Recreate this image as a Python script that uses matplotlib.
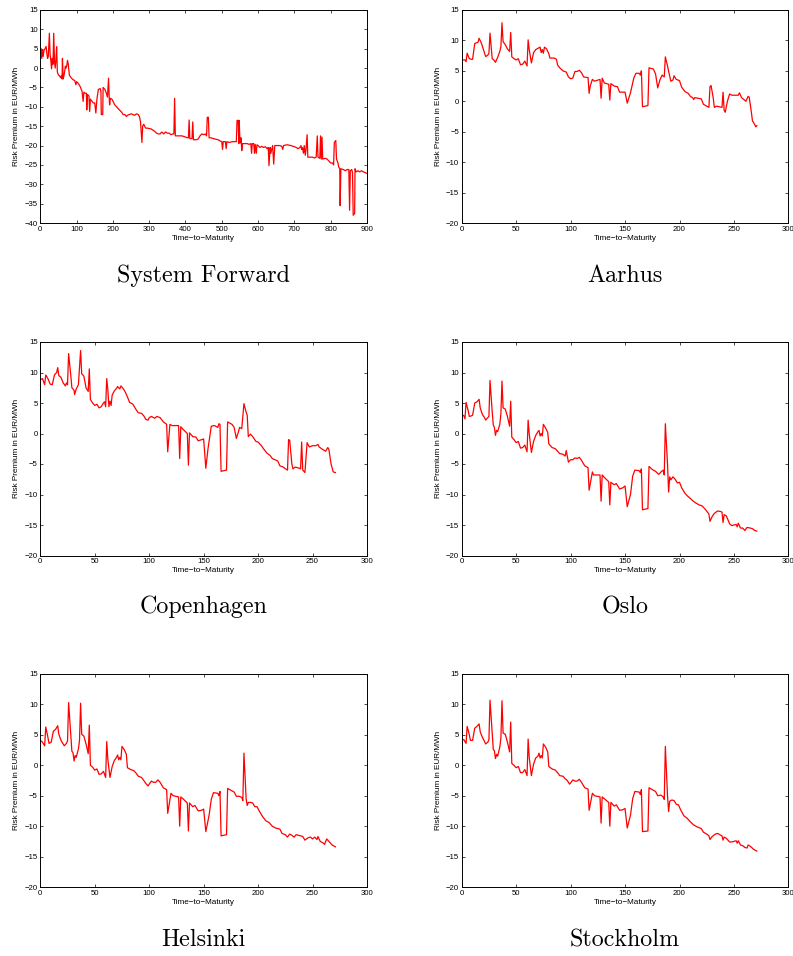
import matplotlib
matplotlib.use("Agg")
import matplotlib.pyplot as plt

# ---------------- data ----------------
sf_x = [0, 2, 4, 6, 8, 10, 13, 16, 18, 20, 22, 25, 27, 29, 31, 33, 35, 37, 39, 41, 43, 45, 47, 50, 53, 56, 58, 60, 61, 63, 65, 67, 69, 71, 73, 75, 77, 80, 85, 90, 95, 98, 100, 105, 110, 115, 118, 120, 123, 127, 128, 130, 134, 136, 138, 142, 146, 150, 153, 156, 160, 165, 167, 168, 172, 173, 178, 182, 185, 188, 190, 191, 193, 197, 200, 205, 210, 215, 220, 225, 228, 233, 237, 240, 245, 250, 255, 260, 265, 270, 273, 276, 278, 280, 282, 285, 290, 295, 300, 305, 310, 315, 320, 325, 330, 335, 340, 345, 350, 355, 360, 365, 368, 370, 372, 380, 390, 400, 405, 408, 410, 412, 418, 420, 422, 430, 435, 440, 445, 450, 455, 458, 460, 463, 465, 470, 480, 490, 495, 500, 502, 504, 508, 510, 512, 514, 520, 530, 535, 540, 542, 545, 547, 548, 550, 552, 553, 555, 557, 560, 570, 575, 580, 582, 584, 588, 590, 592, 595, 597, 600, 605, 610, 615, 620, 625, 628, 630, 633, 635, 640, 643, 646, 650, 660, 665, 668, 670, 680, 690, 700, 705, 710, 715, 718, 720, 722, 725, 727, 730, 732, 735, 737, 740, 750, 755, 760, 763, 765, 770, 772, 774, 776, 778, 785, 790, 795, 800, 805, 808, 810, 814, 816, 820, 822, 825, 826, 828, 835, 840, 845, 850, 852, 854, 858, 860, 862, 866, 867, 870, 875, 880, 885, 890, 895, 900]
sf_y = [3.0, 5.1, 2.5, 4.8, 3.0, 4.5, 5.0, 5.6, 3.8, 2.5, 3.0, 9.0, 3.5, 2.0, -0.2, 2.5, 1.0, 9.0, 2.0, 0.0, 2.0, 5.5, -1.0, -1.8, -2.0, -2.5, -2.0, -2.8, 2.5, -2.8, -2.0, -1.0, 0.5, 0.0, 0.7, 2.0, 1.0, -1.8, -2.5, -3.0, -3.2, -4.3, -3.5, -4.0, -4.8, -6.0, -8.6, -6.2, -6.5, -6.5, -10.8, -6.8, -7.2, -11.2, -8.0, -8.5, -9.0, -9.0, -11.6, -8.0, -5.5, -5.3, -6.0, -12.0, -12.0, -5.0, -5.5, -6.5, -7.5, -2.6, -8.0, -9.5, -7.8, -8.0, -8.5, -9.5, -10.0, -10.5, -11.0, -11.5, -12.0, -12.0, -12.5, -12.2, -12.0, -11.8, -12.0, -12.2, -11.8, -12.0, -12.5, -13.8, -16.5, -19.2, -15.0, -14.5, -15.5, -15.5, -15.6, -15.7, -16.0, -16.3, -16.8, -17.0, -17.0, -16.5, -17.0, -16.5, -16.8, -16.8, -17.2, -17.0, -17.0, -7.8, -17.5, -17.5, -17.5, -17.8, -18.0, -18.0, -13.4, -18.2, -18.2, -13.9, -18.5, -18.5, -18.3, -17.5, -17.0, -17.2, -17.0, -17.5, -12.7, -12.7, -18.0, -18.0, -18.3, -18.5, -18.8, -19.0, -21.0, -19.0, -19.0, -19.0, -20.8, -19.0, -19.2, -19.0, -19.0, -19.0, -13.5, -13.5, -19.5, -13.5, -19.0, -19.3, -18.0, -21.3, -19.5, -19.5, -19.5, -19.7, -19.5, -22.0, -19.5, -19.5, -22.0, -19.7, -22.0, -19.8, -20.0, -20.5, -20.2, -20.5, -20.3, -20.8, -20.5, -25.2, -20.5, -22.0, -20.0, -24.8, -20.0, -20.0, -20.0, -20.2, -21.0, -20.0, -19.8, -20.0, -20.3, -20.5, -20.8, -20.5, -20.0, -21.0, -20.5, -22.0, -20.0, -22.5, -21.0, -17.2, -23.0, -23.0, -23.0, -23.2, -23.0, -17.5, -23.0, -23.3, -17.5, -23.5, -17.8, -23.5, -23.3, -23.5, -24.0, -24.5, -24.5, -25.0, -19.2, -18.7, -23.5, -24.5, -25.5, -26.0, -35.5, -26.0, -26.2, -26.5, -26.2, -26.2, -36.7, -26.5, -26.2, -27.0, -38.0, -37.5, -26.0, -26.8, -26.5, -26.8, -26.5, -26.8, -27.0, -27.2]

aar_x = [0, 3, 4, 5, 7, 9, 10, 12, 15, 16, 18, 22, 24, 25, 26, 28, 30, 31, 33, 35, 36, 37, 38, 40, 42, 44, 45, 46, 48, 50, 52, 54, 56, 58, 60, 61, 62, 64, 66, 68, 70, 72, 73, 74, 75, 76, 78, 80, 81, 85, 87, 88, 90, 93, 96, 98, 100, 102, 104, 106, 108, 110, 112, 116, 117, 118, 120, 122, 127, 128, 129, 131, 135, 136, 137, 140, 143, 145, 150, 152, 155, 158, 160, 163, 164, 165, 166, 171, 172, 176, 178, 180, 182, 184, 186, 187, 189, 192, 194, 195, 197, 200, 202, 205, 208, 210, 212, 213, 214, 220, 222, 225, 227, 228, 229, 231, 232, 234, 239, 240, 241, 242, 244, 246, 248, 254, 255, 257, 261, 263, 264, 266, 267, 269, 270, 271]
aar_y = [6.8, 6.8, 6.5, 7.9, 7.0, 6.9, 6.9, 9.5, 9.7, 10.35, 9.6, 7.35, 7.6, 7.9, 11.2, 7.0, 6.7, 6.4, 7.2, 8.2, 9.0, 12.9, 9.8, 9.3, 8.6, 8.2, 11.3, 7.3, 7.0, 6.8, 7.0, 6.0, 6.1, 6.6, 5.8, 10.1, 8.5, 6.3, 8.0, 8.5, 8.7, 8.9, 8.0, 8.5, 7.9, 8.9, 8.6, 7.8, 7.1, 7.1, 6.9, 6.0, 5.5, 5.0, 4.8, 4.0, 3.7, 3.8, 4.9, 4.9, 5.1, 4.7, 4.0, 3.9, 1.3, 2.5, 3.6, 3.3, 3.6, 0.5, 3.8, 3.0, 2.8, 0.2, 2.9, 2.5, 2.4, 1.5, 1.5, -0.3, 1.4, 3.8, 4.6, 4.6, 4.3, 5.0, -0.9, -0.7, 5.5, 5.3, 4.5, 2.2, 3.5, 4.3, 4.0, 7.3, 5.8, 3.3, 3.5, 4.2, 3.6, 3.4, 2.3, 1.6, 1.3, 0.8, 0.6, 0.3, 0.6, 0.4, -0.5, -0.8, -1.0, 2.4, 2.6, 0.5, -1.0, -0.8, -1.0, 1.5, -1.5, -1.8, 0.0, 1.2, 1.0, 1.0, 1.4, 0.6, 0.0, 0.8, 0.7, -1.8, -3.2, -3.8, -4.2, -4.0]

cph_x = [0, 2, 4, 5, 7, 9, 11, 13, 15, 16, 17, 19, 21, 23, 24, 25, 26, 28, 29, 31, 31.5, 33, 35, 37, 38, 40, 42, 44, 45, 46, 48, 50, 52, 54, 56, 58, 59, 60, 61, 62, 63, 64, 65, 66, 68, 70, 71, 73, 74, 76, 78, 80, 82, 85, 88, 90, 93, 95, 97, 99, 100, 102, 105, 107, 110, 113, 116, 117, 119, 121, 127, 128, 129, 131, 135, 136, 137, 140, 143, 145, 150, 152, 154, 157, 160, 163, 164, 165, 166, 171, 172, 176, 178, 180, 182, 183, 185, 187, 189, 190, 191, 193, 195, 198, 200, 203, 205, 208, 211, 213, 218, 220, 223, 226, 227, 228, 229, 231, 232, 234, 238, 239, 240, 241, 243, 245, 247, 250, 253, 255, 256, 260, 262, 264, 265, 267, 269, 271]
cph_y = [8.8, 9.0, 8.0, 9.6, 9.0, 8.1, 8.0, 9.6, 10.0, 10.8, 9.5, 9.2, 8.3, 7.8, 8.3, 8.0, 13.1, 9.5, 7.5, 7.1, 6.4, 7.3, 8.0, 13.6, 9.8, 9.4, 7.5, 6.9, 10.6, 5.6, 5.0, 4.6, 4.8, 4.2, 4.4, 5.0, 5.2, 4.4, 9.0, 7.2, 4.4, 5.3, 4.6, 6.3, 7.0, 7.4, 7.7, 7.3, 7.8, 7.4, 6.8, 6.0, 5.1, 4.8, 3.9, 3.4, 3.3, 2.9, 2.3, 2.2, 2.6, 2.8, 2.5, 2.8, 2.6, 1.9, 1.5, -3.0, 1.5, 1.3, 1.3, -4.1, 1.1, 0.7, 0.0, -5.2, 0.1, -0.5, -0.6, -1.2, -0.9, -5.7, -2.5, 1.2, 1.3, 1.0, 1.6, 1.5, -6.2, -6.0, 1.9, 1.5, 1.0, -0.8, 0.3, 1.0, 0.8, 4.9, 3.5, 3.0, -0.5, -0.1, -0.5, -1.3, -1.4, -2.0, -2.5, -3.2, -3.6, -4.1, -4.5, -5.3, -5.5, -5.9, -6.0, -1.0, -1.1, -5.0, -5.8, -5.5, -5.7, -5.8, -1.4, -6.0, -6.4, -1.5, -2.2, -2.0, -2.0, -1.8, -2.2, -2.7, -2.9, -2.3, -2.6, -5.0, -6.3, -6.4]

osl_x = [0, 2, 3, 4, 6, 7, 9, 10, 12, 14, 16, 17, 19, 21, 22, 24, 25, 26, 28, 29, 30, 31, 32, 33, 35, 36, 37, 38, 40, 42, 44, 45, 46, 48, 50, 52, 54, 56, 58, 60, 61, 62, 64, 66, 68, 70, 71, 72, 73, 74, 75, 77, 79, 80, 83, 86, 88, 90, 93, 95, 96, 98, 100, 102, 104, 106, 108, 110, 113, 116, 117, 120, 121, 127, 128, 129, 131, 135, 136, 137, 140, 142, 145, 148, 150, 152, 155, 157, 159, 163, 164, 165, 166, 171, 172, 175, 178, 181, 183, 185, 186, 187, 189, 190, 191, 192, 194, 196, 198, 200, 202, 205, 207, 209, 212, 215, 218, 221, 224, 227, 228, 230, 232, 235, 238, 239, 240, 241, 243, 246, 248, 250, 252, 253, 254, 256, 258, 260, 262, 265, 267, 269, 271]
osl_y = [3.1, 2.9, 2.4, 5.1, 3.7, 2.8, 2.9, 3.0, 5.0, 5.2, 5.6, 4.2, 3.1, 2.6, 2.2, 2.6, 2.8, 8.7, 3.6, 1.4, 1.0, -0.3, 0.5, 0.3, 1.5, 3.3, 8.6, 4.2, 4.0, 2.8, 1.2, 5.3, -0.6, -1.0, -1.5, -1.3, -2.4, -2.3, -1.9, -3.0, 2.2, 0.0, -3.1, -1.3, -0.3, 0.3, 0.5, -0.4, 0.0, -0.4, 1.5, 0.9, 0.2, -1.7, -2.3, -2.5, -2.9, -3.3, -3.4, -3.7, -2.8, -4.7, -4.3, -4.3, -4.0, -4.1, -3.9, -4.4, -5.3, -5.6, -9.3, -6.3, -6.8, -6.8, -11.1, -6.8, -7.2, -7.9, -11.7, -8.0, -8.4, -8.2, -9.1, -8.9, -8.6, -12.0, -10.0, -7.0, -6.0, -6.1, -6.4, -5.8, -12.5, -12.3, -5.4, -5.9, -6.2, -6.7, -6.3, -6.0, -6.8, 1.6, -5.0, -9.6, -7.1, -7.6, -7.1, -7.5, -8.1, -8.0, -8.9, -9.8, -10.2, -10.5, -11.0, -11.4, -11.7, -11.9, -12.5, -13.2, -14.4, -13.6, -13.1, -12.7, -12.8, -12.9, -14.6, -13.3, -13.5, -14.8, -15.1, -15.0, -14.9, -15.3, -14.7, -15.5, -15.5, -15.9, -15.4, -15.5, -15.6, -15.9, -16.0]

hel_x = [0, 2, 4, 5, 7, 8, 10, 12, 14, 16, 17, 19, 21, 22, 24, 25, 26, 28, 29, 30, 31, 32, 33, 35, 36, 37, 38, 40, 42, 44, 45, 46, 48, 50, 52, 54, 56, 58, 60, 61, 62, 64, 66, 68, 70, 71, 72, 73, 74, 75, 77, 79, 80, 83, 86, 88, 90, 93, 95, 97, 99, 100, 102, 104, 106, 108, 110, 113, 116, 117, 120, 122, 127, 128, 129, 131, 135, 136, 137, 140, 142, 145, 148, 150, 152, 155, 157, 159, 163, 164, 165, 166, 171, 172, 175, 178, 180, 183, 185, 186, 187, 189, 190, 191, 193, 195, 197, 199, 201, 204, 207, 210, 213, 216, 220, 222, 225, 227, 229, 231, 233, 235, 237, 241, 243, 246, 248, 250, 252, 254, 255, 257, 260, 261, 263, 265, 268, 271]
hel_y = [4.1, 3.8, 3.2, 6.3, 4.6, 3.6, 3.8, 5.6, 5.9, 6.5, 5.1, 4.1, 3.5, 3.2, 3.6, 4.0, 10.3, 5.0, 2.3, 2.1, 0.7, 1.6, 1.3, 2.7, 4.1, 10.2, 5.1, 4.8, 3.5, 1.9, 6.6, 0.0, -0.3, -0.8, -0.6, -1.5, -1.4, -1.0, -2.0, 3.9, 1.0, -2.0, -0.2, 0.8, 1.3, 1.7, 0.9, 1.3, 0.9, 3.1, 2.6, 1.8, -0.4, -0.7, -0.9, -1.3, -1.8, -2.0, -2.5, -3.0, -3.4, -3.1, -2.6, -2.8, -2.8, -2.4, -2.8, -3.7, -4.0, -7.9, -4.6, -5.0, -5.2, -10.0, -5.2, -5.5, -6.2, -10.8, -6.2, -6.8, -6.6, -7.5, -7.4, -7.2, -10.9, -8.2, -5.6, -4.5, -4.6, -5.0, -4.3, -11.6, -11.4, -3.8, -4.1, -4.4, -5.1, -5.1, -5.3, -5.8, 2.0, -5.5, -6.6, -6.1, -6.1, -6.2, -6.8, -6.8, -7.5, -8.4, -9.1, -9.4, -10.0, -10.3, -10.5, -11.2, -11.4, -11.8, -11.3, -11.5, -11.8, -11.4, -11.5, -11.7, -12.3, -11.9, -11.8, -12.1, -11.8, -12.2, -11.7, -12.5, -12.8, -13.0, -12.1, -12.5, -13.1, -13.4]

sto_x = [0, 2, 4, 5, 7, 8, 10, 12, 14, 16, 17, 19, 21, 22, 24, 25, 26, 28, 29, 30, 31, 32, 33, 35, 36, 37, 38, 40, 42, 44, 45, 46, 48, 50, 52, 54, 56, 58, 60, 61, 62, 64, 66, 68, 70, 71, 72, 73, 74, 75, 77, 79, 80, 83, 86, 88, 90, 93, 95, 97, 99, 100, 102, 104, 106, 108, 110, 113, 116, 117, 120, 122, 127, 128, 129, 131, 135, 136, 137, 140, 142, 145, 148, 150, 152, 155, 157, 159, 163, 164, 165, 166, 171, 172, 175, 178, 180, 183, 185, 186, 187, 189, 190, 191, 193, 195, 197, 199, 201, 204, 207, 210, 213, 216, 220, 222, 225, 227, 228, 230, 233, 235, 238, 239, 240, 241, 243, 246, 248, 250, 252, 253, 254, 256, 258, 260, 262, 263, 265, 268, 271]
sto_y = [4.3, 4.2, 3.6, 6.4, 5.0, 4.1, 4.1, 6.1, 6.4, 6.8, 5.5, 4.6, 3.9, 3.5, 3.8, 4.2, 10.7, 5.2, 2.6, 2.4, 1.1, 1.8, 1.5, 3.0, 4.5, 10.6, 5.3, 5.1, 3.8, 2.2, 7.1, 0.3, 0.0, -0.4, -0.2, -1.2, -1.2, -0.7, -1.7, 4.3, 1.3, -1.7, 0.2, 1.2, 1.5, 2.0, 1.2, 1.6, 1.2, 3.5, 3.0, 2.2, -0.2, -0.6, -0.8, -1.2, -1.7, -1.8, -2.2, -2.5, -3.1, -2.9, -2.4, -2.6, -2.6, -2.3, -2.8, -3.7, -3.9, -7.4, -4.6, -5.0, -5.2, -9.5, -5.2, -5.5, -6.1, -10.0, -6.1, -6.7, -6.5, -7.4, -7.3, -7.1, -10.3, -8.2, -5.5, -4.3, -4.4, -4.8, -4.0, -10.9, -10.8, -3.7, -4.0, -4.3, -5.0, -4.9, -5.2, -5.6, 3.1, -5.0, -7.6, -5.9, -5.7, -5.8, -6.4, -6.5, -7.3, -8.3, -8.7, -9.3, -9.8, -10.1, -10.4, -11.0, -11.3, -11.6, -12.2, -11.7, -11.3, -11.2, -11.5, -11.6, -12.3, -11.8, -12.0, -12.6, -12.6, -12.5, -12.4, -12.8, -12.4, -13.1, -13.2, -13.5, -13.6, -13.1, -13.3, -13.8, -14.1]

titles = ["System Forward", "Aarhus", "Copenhagen", "Oslo", "Helsinki", "Stockholm"]
series = [(sf_x, sf_y), (aar_x, aar_y), (cph_x, cph_y), (osl_x, osl_y), (hel_x, hel_y), (sto_x, sto_y)]
xlims = [(0, 900), (0, 300), (0, 300), (0, 300), (0, 300), (0, 300)]
ylims = [(-40, 15), (-20, 15), (-20, 15), (-20, 15), (-20, 15), (-20, 15)]
xticks_list = [list(range(0, 901, 100))] + [list(range(0, 301, 50))] * 5
yticks_list = [list(range(-40, 16, 5))] + [list(range(-20, 16, 5))] * 5
xlabel = "Time\u2212to\u2212Maturity"
ylabel = "Risk Premium in EUR/MWh"

# ---------------- layout ----------------
W, H = 793, 956
fig = plt.figure(figsize=(W / 100, H / 100), dpi=100)
lefts = [40.3, 461.7]
tops = [10, 342, 674]
bottoms = [223, 555.5, 887]
title_y = [276, 607, 940]
aw = 326.7

sans = ["Liberation Sans", "DejaVu Sans"]
for i, (title, (xs, ys)) in enumerate(zip(titles, series)):
    r, c = divmod(i, 2)
    l = lefts[c]
    t, b = tops[r], bottoms[r]
    ax = fig.add_axes([l / W, 1 - b / H, aw / W, (b - t) / H])
    ax.plot(xs, ys, color="#ff0000", lw=0.9)
    ax.set_xlim(*xlims[i])
    ax.set_ylim(*ylims[i])
    ax.set_xticks(xticks_list[i])
    ax.set_yticks(yticks_list[i])
    ax.tick_params(direction="in", top=True, right=True, length=2.5, width=0.5,
                   labelsize=5.6, pad=2)
    for lab in ax.get_xticklabels() + ax.get_yticklabels():
        lab.set_family(sans)
    for sp in ax.spines.values():
        sp.set_linewidth(0.7)
    ax.set_xlabel(xlabel, fontsize=5.9, family=sans, labelpad=1.5)
    ax.set_ylabel(ylabel, fontsize=5.9, family=sans, labelpad=3)
    fig.text((l + aw / 2) / W, 1 - title_y[r] / H, title, ha="center", va="center",
             fontsize=17.3, family="cmr10")

fig.savefig("out.png", dpi=100)
